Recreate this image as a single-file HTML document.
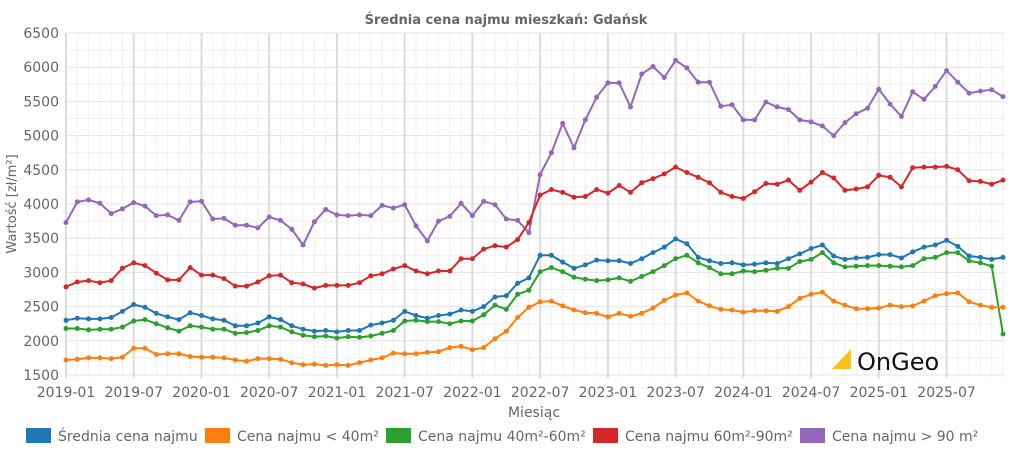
<!DOCTYPE html><html><head><meta charset="utf-8"><style>
body{margin:0;background:#fff;width:1013px;height:451px;overflow:hidden;font-family:"DejaVu Sans","Liberation Sans",sans-serif}
</style></head><body>
<svg id="s" width="1013" height="451" xmlns="http://www.w3.org/2000/svg" font-family="DejaVu Sans, Liberation Sans, sans-serif"></svg>
<script>
const S=document.getElementById('s');
const X0=66,STEP=(1003-66)/83,Y=v=>33+(6500-v)*34.2/500;
let h='';
h+='<text x="506" y="24" text-anchor="middle" font-size="13" font-weight="bold" fill="#666">Średnia cena najmu mieszkań: Gdańsk</text>';
for(let v=1500;v<=6500;v+=250){const y=Y(v);h+=`<line x1="${X0}" x2="1005" y1="${y}" y2="${y}" stroke="${v%500?'#f0f0f0':'#e4e4e4'}" stroke-width="1"/>`;
if(v%500==0)h+=`<text x="59" y="${y+5}" text-anchor="end" font-size="14" fill="#666">${v}</text>`;}
const labs=['2019-01','2019-07','2020-01','2020-07','2021-01','2021-07','2022-01','2022-07','2023-01','2023-07','2024-01','2024-07','2025-01','2025-07'];
for(let i=0;i<84;i++){const x=X0+i*STEP;const maj=i%6==0;h+=`<line x1="${x}" x2="${x}" y1="33" y2="378" stroke="${maj?'#dcdcdc':'#efefef'}" stroke-width="${maj?2:1}"/>`;
if(maj)h+=`<text x="${x}" y="397" text-anchor="middle" font-size="14" fill="#666">${labs[i/6]}</text>`;}
h+='<text x="534" y="417" text-anchor="middle" font-size="14" fill="#666">Miesiąc</text>';
h+='<text transform="translate(16,204) rotate(-90)" text-anchor="middle" font-size="13" fill="#666">Wartość [zł/m²]</text>';
const D={
'#9467bd':[3730,4030,4060,4010,3860,3930,4020,3970,3830,3840,3760,4030,4040,3780,3790,3690,3690,3650,3810,3760,3630,3400,3740,3920,3840,3830,3840,3830,3980,3940,3990,3680,3460,3750,3820,4010,3830,4040,3990,3780,3760,3580,4430,4750,5180,4820,5230,5560,5770,5770,5420,5900,6010,5850,6100,5990,5780,5780,5430,5450,5230,5230,5490,5420,5380,5230,5200,5140,5000,5190,5320,5400,5680,5460,5280,5640,5530,5720,5950,5780,5620,5650,5670,5570],
'#d62728':[2790,2860,2880,2850,2880,3060,3140,3100,2990,2890,2890,3070,2960,2960,2910,2800,2800,2860,2950,2960,2850,2830,2770,2810,2810,2810,2850,2950,2980,3050,3100,3020,2980,3020,3020,3200,3200,3340,3390,3370,3480,3730,4130,4210,4170,4100,4110,4210,4160,4270,4170,4310,4370,4440,4540,4460,4390,4310,4170,4110,4080,4180,4300,4290,4350,4200,4320,4460,4380,4200,4220,4250,4420,4390,4250,4530,4540,4540,4550,4500,4340,4330,4290,4350],
'#2ca02c':[2180,2180,2160,2170,2170,2200,2290,2310,2250,2190,2140,2220,2200,2170,2170,2110,2120,2150,2220,2200,2130,2080,2060,2070,2040,2060,2050,2070,2110,2150,2290,2300,2280,2280,2250,2290,2290,2380,2520,2460,2680,2740,3010,3070,3010,2930,2900,2880,2890,2920,2870,2940,3010,3100,3200,3250,3140,3070,2980,2980,3020,3010,3030,3060,3060,3160,3190,3290,3140,3080,3090,3100,3100,3090,3080,3100,3200,3220,3290,3290,3170,3140,3090,2100],
'#1f77b4':[2300,2330,2320,2320,2340,2430,2530,2490,2400,2350,2310,2410,2370,2320,2300,2220,2220,2260,2350,2310,2220,2170,2140,2150,2130,2150,2150,2230,2260,2300,2430,2370,2330,2370,2390,2450,2430,2500,2640,2660,2840,2920,3250,3250,3150,3060,3110,3180,3170,3170,3130,3200,3290,3370,3490,3420,3220,3170,3130,3140,3110,3120,3140,3130,3200,3270,3350,3400,3240,3190,3210,3220,3260,3260,3210,3300,3370,3400,3470,3380,3240,3220,3190,3220],
'#ff7f0e':[1720,1730,1750,1750,1740,1760,1890,1890,1800,1810,1810,1770,1760,1760,1750,1720,1700,1740,1740,1730,1680,1650,1660,1640,1650,1640,1680,1720,1750,1820,1810,1810,1830,1840,1900,1920,1870,1900,2030,2140,2340,2490,2570,2580,2510,2450,2410,2400,2350,2400,2360,2400,2480,2590,2670,2700,2580,2510,2460,2450,2420,2440,2440,2430,2500,2620,2680,2710,2580,2520,2470,2470,2480,2520,2500,2510,2580,2660,2690,2700,2570,2520,2490,2490]};
for(const c in D){const p=D[c].map((v,i)=>[X0+i*STEP,Y(v)]);
h+=`<polyline fill="none" stroke="${c}" stroke-width="2" points="${p.map(q=>q[0].toFixed(1)+','+q[1].toFixed(1)).join(' ')}"/>`;
p.forEach(q=>h+=`<circle cx="${q[0].toFixed(1)}" cy="${q[1].toFixed(1)}" r="2.5" fill="${c}"/>`);}
h+='<polygon points="832,369 851,349 851,369" fill="#f7c31a"/><text x="857" y="370" font-size="24" fill="#111">OnGeo</text>';
const L=[['#1f77b4','Średnia cena najmu',26],['#ff7f0e','Cena najmu < 40m²',205],['#2ca02c','Cena najmu 40m²-60m²',386],['#d62728','Cena najmu 60m²-90m²',593],['#9467bd','Cena najmu > 90 m²',800]];
L.forEach(l=>{h+=`<rect x="${l[2]}" y="428" width="25" height="15" fill="${l[0]}"/><text x="${l[2]+32}" y="441" font-size="14" fill="#666">${l[1]}</text>`;});
S.innerHTML=h;
</script></body></html>
